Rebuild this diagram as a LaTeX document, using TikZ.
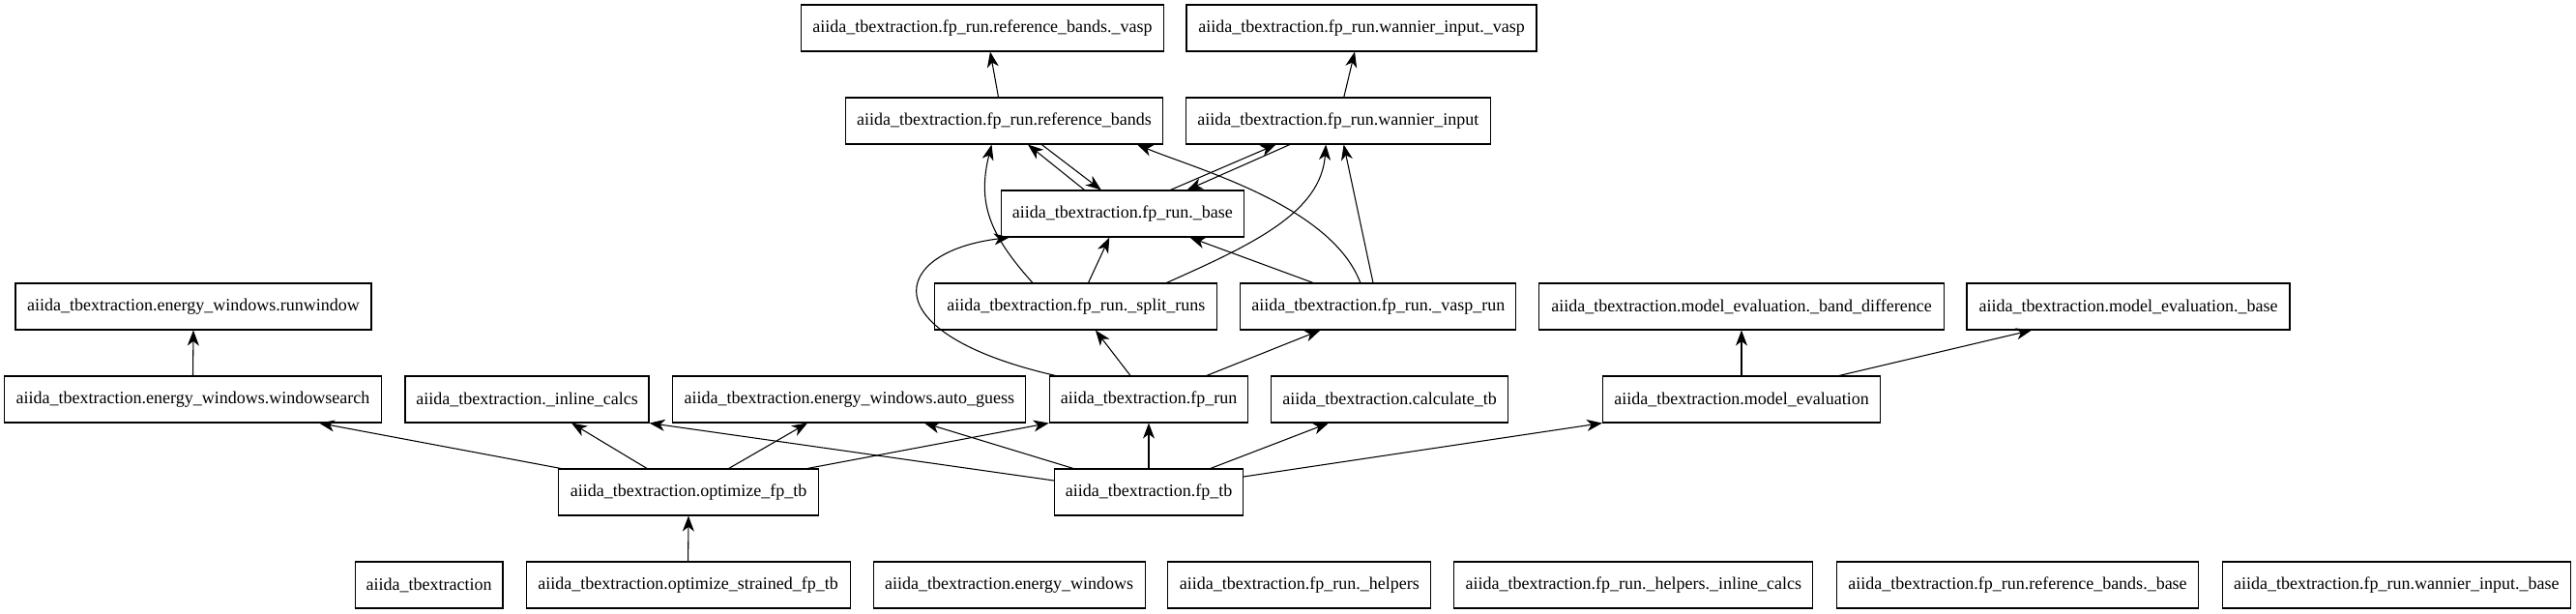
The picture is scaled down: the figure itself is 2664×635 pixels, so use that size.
\documentclass[tikz,border=0pt]{standalone}
\usepackage{fontspec}
\setmainfont{Liberation Serif}
\usetikzlibrary{arrows.meta,calc}
\begin{document}
\begin{tikzpicture}[x=0.75pt,y=-0.75pt,
  box/.style={draw,line width=0.8pt,rectangle,inner sep=0pt,minimum height=36pt,font=\fontsize{13.5}{15}\selectfont},
  dep/.style={line width=0.8pt,-{Stealth[length=12pt,width=9pt,inset=3.5pt]}}]
\useasboundingbox (0,0) rectangle (2664,635);
% row 1
\node[box,minimum width=375*0.75pt] (rbv) at (1016,29) {aiida\_tbextraction.fp\_run.reference\_bands.\_vasp};
\node[box,minimum width=362*0.75pt] (wiv) at (1408,29) {aiida\_tbextraction.fp\_run.wannier\_input.\_vasp};
% row 2
\node[box,minimum width=328*0.75pt] (rb) at (1038.5,125) {aiida\_tbextraction.fp\_run.reference\_bands};
\node[box,minimum width=314.5*0.75pt] (wi) at (1383.8,125) {aiida\_tbextraction.fp\_run.wannier\_input};
% row 3
\node[box,minimum width=251*0.75pt] (base) at (1160.8,221) {aiida\_tbextraction.fp\_run.\_base};
% row 4
\node[box,minimum width=368*0.75pt] (runwindow) at (200,317) {aiida\_tbextraction.energy\_windows.runwindow};
\node[box,minimum width=292*0.75pt] (split) at (1112.9,317) {aiida\_tbextraction.fp\_run.\_split\_runs};
\node[box,minimum width=285*0.75pt] (vasprun) at (1425.4,317) {aiida\_tbextraction.fp\_run.\_vasp\_run};
\node[box,minimum width=418.5*0.75pt] (banddiff) at (1801,317) {aiida\_tbextraction.model\_evaluation.\_band\_difference};
\node[box,minimum width=334*0.75pt] (mebase) at (2201,317) {aiida\_tbextraction.model\_evaluation.\_base};
% row 5
\node[box,minimum width=390*0.75pt] (wsearch) at (199.5,413) {aiida\_tbextraction.energy\_windows.windowsearch};
\node[box,minimum width=252*0.75pt] (inline) at (545,413) {aiida\_tbextraction.\_inline\_calcs};
\node[box,minimum width=365*0.75pt] (autoguess) at (878.4,413) {aiida\_tbextraction.energy\_windows.auto\_guess};
\node[box,minimum width=205.5*0.75pt] (fprun) at (1188,413) {aiida\_tbextraction.fp\_run};
\node[box,minimum width=244.5*0.75pt] (calctb) at (1437,413) {aiida\_tbextraction.calculate\_tb};
\node[box,minimum width=287*0.75pt] (modeleval) at (1801,413) {aiida\_tbextraction.model\_evaluation};
% row 6
\node[box,minimum width=269*0.75pt] (opt) at (712,509) {aiida\_tbextraction.optimize\_fp\_tb};
\node[box,minimum width=195*0.75pt] (fptb) at (1188,509) {aiida\_tbextraction.fp\_tb};
% row 7
\node[box,minimum width=152.6*0.75pt] (root) at (443.7,605) {aiida\_tbextraction};
\node[box,minimum width=335*0.75pt] (strained) at (711.6,605) {aiida\_tbextraction.optimize\_strained\_fp\_tb};
\node[box,minimum width=281*0.75pt] (ew) at (1043.6,605) {aiida\_tbextraction.energy\_windows};
\node[box,minimum width=272*0.75pt] (helpers) at (1343.9,605) {aiida\_tbextraction.fp\_run.\_helpers};
\node[box,minimum width=371*0.75pt] (hinline) at (1689.3,605) {aiida\_tbextraction.fp\_run.\_helpers.\_inline\_calcs};
\node[box,minimum width=374.6*0.75pt] (rbbase) at (2086.5,605) {aiida\_tbextraction.fp\_run.reference\_bands.\_base};
\node[box,minimum width=360.4*0.75pt] (wibase) at (2478.4,605) {aiida\_tbextraction.fp\_run.wannier\_input.\_base};
% edges
\draw[dep] ($(rb.north)+(-6,0)$) -- ($(rbv.south)+(8,0)$);
\draw[dep] ($(wi.north)+(6,0)$) -- ($(wiv.south)+(-7,0)$);
\draw[dep] ($(base.north)+(-39.3,0)$) -- ($(rb.south)+(24.5,0)$);
\draw[dep] ($(rb.south)+(38.8,0)$) -- ($(base.north)+(-22,0)$);
\draw[dep] ($(base.north)+(49.6,0)$) -- ($(wi.south)+(-64.3,0)$);
\draw[dep] ($(wi.south)+(-49.9,0)$) -- ($(base.north)+(66.9,0)$);
\draw[dep] ($(split.north)+(-45,0)$) .. controls +(-45,-50) and +(-15,60) .. ($(rb.south)+(-13,0)$);
\draw[dep] ($(split.north)+(12.6,0)$) -- ($(base.south)+(-13.5,0)$);
\draw[dep] ($(split.north)+(93.5,0)$) .. controls +(90,-40) and +(-5,70) .. ($(wi.south)+(-12.6,0)$);
\draw[dep] ($(vasprun.north)+(-67.4,0)$) -- ($(base.south)+(69.7,0)$);
\draw[dep] ($(vasprun.north)+(-18.6,0)$) .. controls +(-30,-80) and +(60,25) .. ($(rb.south)+(137.5,0)$);
\draw[dep] ($(vasprun.north)+(-5.4,0)$) -- ($(wi.south)+(5.8,0)$);
\draw[dep] ($(fprun.north)+(-96.4,0)$) .. controls +(-191.6,-44) and +(-124,15) .. ($(base.south)+(-116.8,0)$);
\draw[dep] ($(fprun.north)+(-19,0)$) -- ($(split.south)+(20,0)$);
\draw[dep] ($(fprun.north)+(59.8,0)$) -- ($(vasprun.south)+(-60,0)$);
\draw[dep] (wsearch.north) -- (runwindow.south);
\draw[dep] (modeleval.north) -- (banddiff.south);
\draw[dep] ($(modeleval.north)+(101,0)$) -- ($(mebase.south)+(-100,0)$);
\draw[dep] ($(opt.north)+(-132,0)$) -- ($(wsearch.south)+(130.5,0)$);
\draw[dep] ($(opt.north)+(-43,0)$) -- ($(inline.south)+(46,0)$);
\draw[dep] ($(opt.north)+(41.7,0)$) -- ($(autoguess.south)+(-43.4,0)$);
\draw[dep] ($(opt.north)+(123,0)$) -- (fprun.south west);
\draw[dep] ($(fptb.west)+(0,-12)$) -- (inline.south east);
\draw[dep] ($(fptb.north)+(-78,0)$) -- ($(autoguess.south)+(77.6,0)$);
\draw[dep] (fptb.north) -- (fprun.south);
\draw[dep] ($(fptb.north)+(63.8,0)$) -- ($(calctb.south)+(-63,0)$);
\draw[dep] ($(fptb.east)+(0,-16)$) -- (modeleval.south west);
\draw[dep] (strained.north) -- (opt.south);
\end{tikzpicture}
\end{document}
